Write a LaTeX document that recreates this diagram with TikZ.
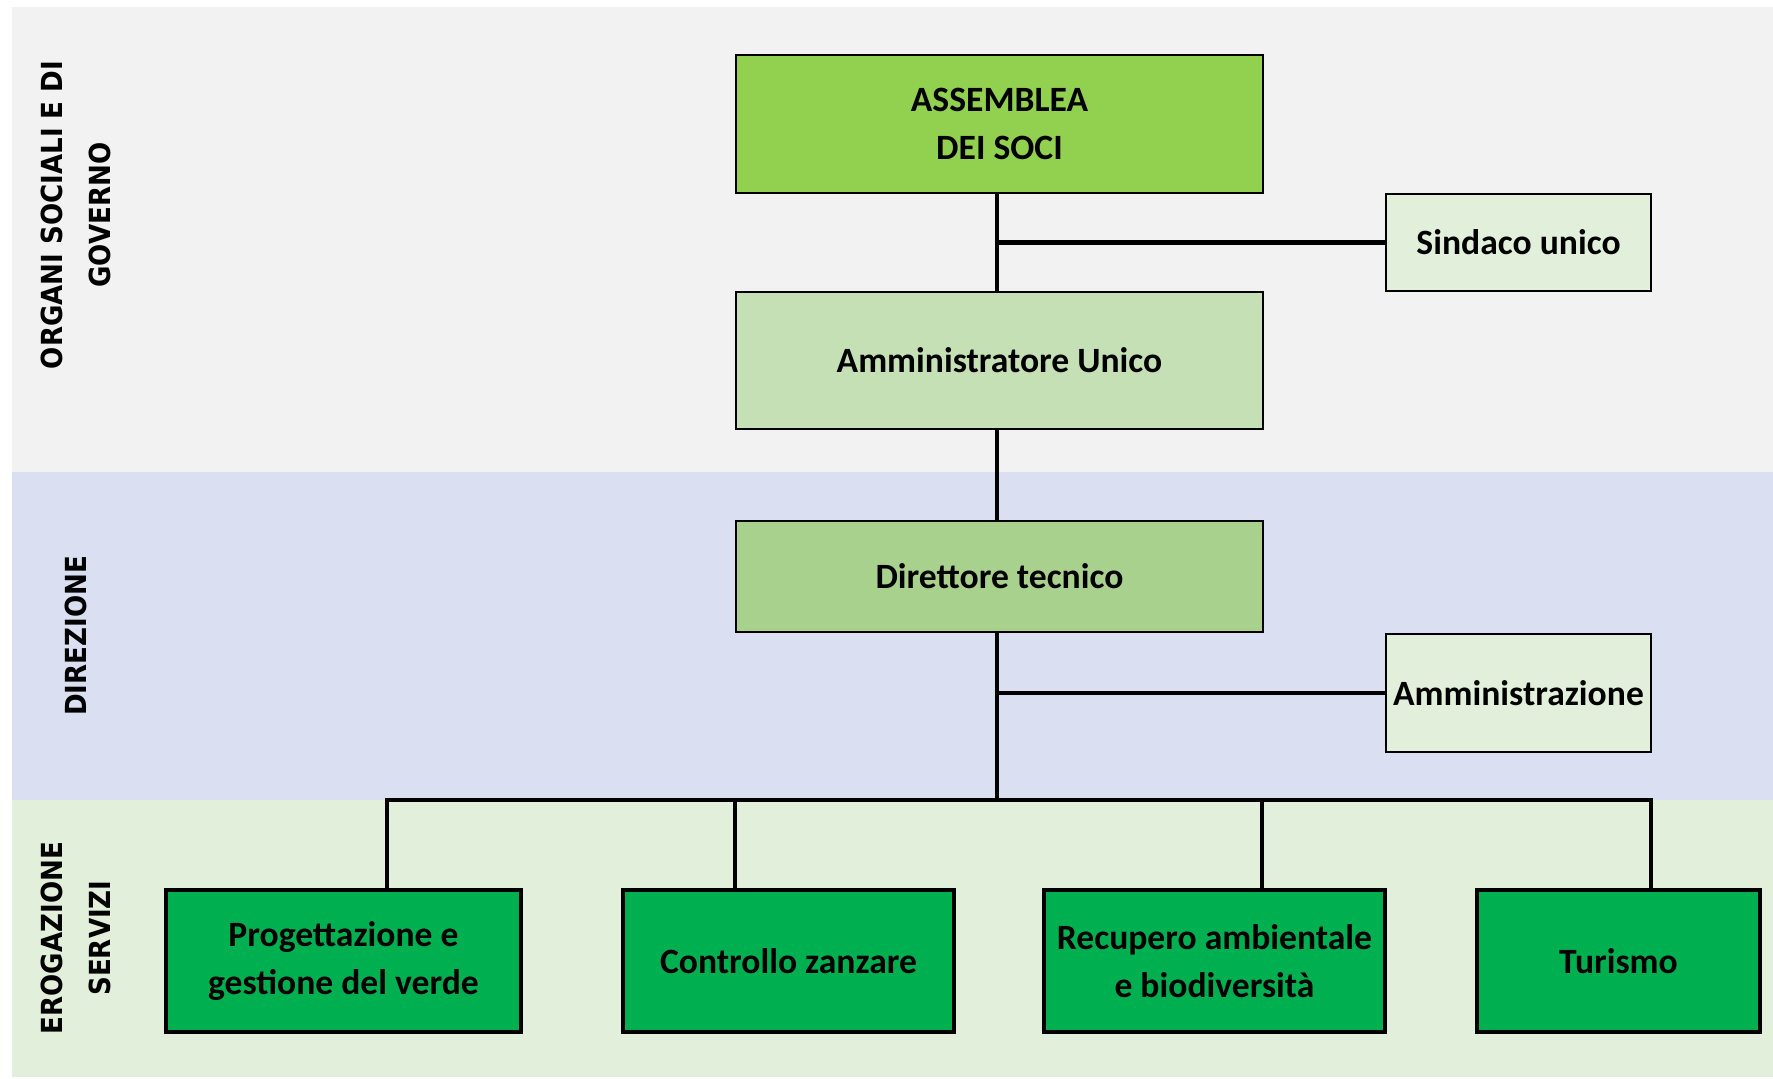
\documentclass[tikz,border=0pt]{standalone}
\usepackage{fontspec}
\setmainfont{Carlito}
\newfontfamily\bandfont[FakeStretch=0.9]{DejaVu Sans}
\definecolor{bandA}{HTML}{F2F2F2}
\definecolor{bandB}{HTML}{DAE0F2}
\definecolor{bandC}{HTML}{E2EFDA}
\definecolor{assC}{HTML}{92D050}
\definecolor{lightC}{HTML}{E2EFDA}
\definecolor{ammC}{HTML}{C5E0B4}
\definecolor{dirC}{HTML}{A9D18E}
\definecolor{svcC}{HTML}{00B050}
\begin{document}
\begin{tikzpicture}[x=0.5pt,y=-0.5pt,
  box/.style={draw=black, line width=1pt, align=center, inner sep=0pt, text=black,
    font=\fontsize{17.8}{23.7}\selectfont\bfseries},
  svcbox/.style={box, line width=2pt, fill=svcC, minimum height=71pt},
  conn/.style={draw=black, line width=1.6pt},
  bandlabel/.style={font=\bandfont\bfseries\fontsize{14.5}{24}\selectfont, rotate=90, align=center, inner sep=0pt}]
\useasboundingbox (0,0) rectangle (1773,1078);
% bands
\fill[bandA] (12,7) rectangle (1773,472);
\fill[bandB] (12,472) rectangle (1773,800);
\fill[bandC] (12,800) rectangle (1773,1077);
% band labels
\node[bandlabel] (lab1) at (75.5,215) {ORGANI SOCIALI E DI\\GOVERNO};
\node[bandlabel] (lab2) at (76,636) {DIREZIONE};
\node[bandlabel] (lab3) at (75.5,938) {EROGAZIONE\\SERVIZI};
% boxes
\node[box, fill=assC, minimum width=263.5pt, minimum height=69pt] (ass) at (999.5,124) {ASSEMBLEA\\DEI SOCI};
\node[box, fill=lightC, minimum width=132.5pt, minimum height=48.5pt] (sin) at (1518.5,242.5) {Sindaco unico};
\node[box, fill=ammC, minimum width=263.5pt, minimum height=68.5pt] (amm) at (999.5,360.5) {Amministratore Unico};
\node[box, fill=dirC, minimum width=263.5pt, minimum height=55.5pt] (dir) at (999.5,576.5) {Direttore tecnico};
\node[box, fill=lightC, minimum width=132.5pt, minimum height=59pt] (ammz) at (1518.5,693) {Amministrazione};
\node[svcbox, minimum width=177.5pt] (prog) at (343.5,961) {Progettazione e\\gestione del verde};
\node[svcbox, minimum width=165.5pt] (contr) at (788.5,961) {Controllo zanzare};
\node[svcbox, minimum width=170.5pt] (recup) at (1214.5,961) {Recupero ambientale\\e biodiversità};
\node[svcbox, minimum width=141.5pt] (tur) at (1618.5,961) {Turismo};
% connector coordinates
\coordinate (tr) at (997,800);
\coordinate (d1) at (387,800);
\coordinate (d2) at (735,800);
\coordinate (d3) at (1262,800);
\coordinate (d4) at (1651,800);
% connectors
\draw[conn] (ass.south -| tr) -- (amm.north -| tr);
\draw[conn, line width=2.1pt] (sin.west) -- (sin.west -| tr);
\draw[conn] (amm.south -| tr) -- (dir.north -| tr);
\draw[conn] (dir.south -| tr) -- (tr);
\draw[conn] (ammz.west) -- (ammz.west -| tr);
\draw[conn, line width=1.8pt] (prog.north -| d1) -- (d1) -- (d4) -- (tur.north -| d4);
\draw[conn] (d2) -- (contr.north -| d2);
\draw[conn] (d3) -- (recup.north -| d3);
\end{tikzpicture}
\end{document}
